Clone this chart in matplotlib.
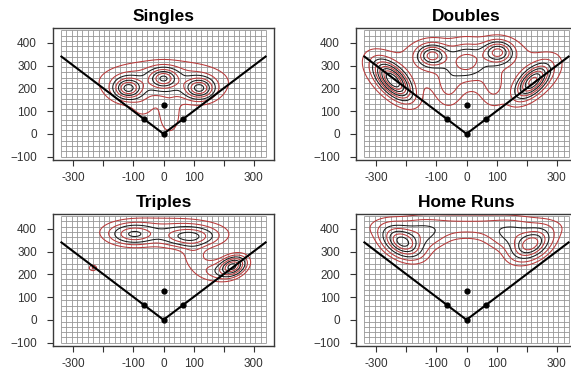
import numpy as np
import matplotlib
matplotlib.use("Agg")
import matplotlib.pyplot as plt

plt.rcParams['font.family'] = ['Liberation Sans', 'DejaVu Sans']

# Panel titles
titles = ["Singles", "Doubles", "Triples", "Home Runs"]

# Hot spots of each density surface:
# centre x, centre y, spread x, spread y, tilt, weight
singles_cx = [-118, 0, 120, 0, 20, -70]
singles_cy = [200, 245, 200, 230, 80, 115]
singles_sx = [30, 30, 31, 125, 22, 28]
singles_sy = [30, 28, 30, 55, 50, 35]
singles_rho = [0, 0, 0, 0, 0, 0]
singles_w = [1.0, 0.8, 1.0, 0.35, 0.2, 0.1]

doubles_cx = [-245, 220, -115, 105, 0, 0, -60, 90]
doubles_cy = [235, 230, 345, 360, 320, 300, 200, 200]
doubles_sx = [40, 38, 33, 33, 40, 200, 28, 28]
doubles_sy = [55, 50, 33, 33, 50, 80, 55, 55]
doubles_rho = [-0.6, 0.6, 0, 0, 0, 0, 0, 0]
doubles_w = [1.0, 0.8, 0.55, 0.55, 0.3, 0.16, 0.15, 0.15]

triples_cx = [-100, 85, 230, -235, 100, 0, 170]
triples_cy = [375, 365, 235, 228, 285, 395, 215]
triples_sx = [48, 58, 27, 9, 28, 135, 38]
triples_sy = [28, 28, 27, 9, 50, 40, 30]
triples_rho = [0, 0, 0.3, 0, 0, 0, 0]
triples_w = [0.55, 0.6, 1.0, 0.2, 0.13, 0.18, 0.22]

hr_cx = [-215, 215, 0, -150, 150]
hr_cy = [340, 330, 410, 370, 365]
hr_sx = [40, 40, 190, 50, 50]
hr_sy = [42, 42, 35, 40, 40]
hr_rho = [-0.4, 0.4, 0, 0, 0]
hr_w = [1.0, 0.9, 0.22, 0.3, 0.3]

# contour levels as fraction of peak height
singles_levels = [0.07, 0.18, 0.3, 0.45, 0.6, 0.75, 0.9]
doubles_levels = [0.07, 0.17, 0.27, 0.37, 0.47, 0.57, 0.67, 0.77, 0.87]
triples_levels = [0.08, 0.18, 0.3, 0.45, 0.6, 0.75, 0.9]
hr_levels = [0.07, 0.16, 0.3, 0.45, 0.6, 0.75, 0.9]

# field: foul lines and bases
foul_x = [-340, 0, 340]
foul_y = [340, 0, 340]
base_x = [0, -63.6, 63.6, 0]
base_y = [0, 63.6, 63.6, 127]

xticks = [-300, -200, -100, 0, 100, 200, 300]
xticklabels = ["-300", "", "-100", "0", "100", "", "300"]
yticks = [-100, 0, 100, 200, 300, 400]

panels = [
    (singles_cx, singles_cy, singles_sx, singles_sy, singles_rho, singles_w, singles_levels),
    (doubles_cx, doubles_cy, doubles_sx, doubles_sy, doubles_rho, doubles_w, doubles_levels),
    (triples_cx, triples_cy, triples_sx, triples_sy, triples_rho, triples_w, triples_levels),
    (hr_cx, hr_cy, hr_sx, hr_sy, hr_rho, hr_w, hr_levels),
]

W, H = 571, 371
fig = plt.figure(figsize=(W / 100, H / 100), dpi=100)

# pixel boxes: left, top, right, bottom
boxes = [(53, 27.7, 274, 160), (356, 27.7, 577, 160),
         (53, 213.5, 274, 346), (356, 213.5, 577, 346)]

gx = np.linspace(-368, 368, 320)
gy = np.linspace(-115, 467, 280)
GX, GY = np.meshgrid(gx, gy)


def surface(cx, cy, sx, sy, rho, w):
    Z = np.zeros_like(GX)
    for a, b, s1, s2, r, k in zip(cx, cy, sx, sy, rho, w):
        dx = (GX - a) / s1
        dy = (GY - b) / s2
        Z += k * np.exp(-(dx ** 2 - 2 * r * dx * dy + dy ** 2) / (2 * (1 - r ** 2)))
    return Z


red, blk = '#b83a3a', '#1a1a1a'

for title, box, p in zip(titles, boxes, panels):
    l, t, r, b = box
    ax = fig.add_axes([l / W, 1 - b / H, (r - l) / W, (b - t) / H])
    ax.set_xlim(-368, 368)
    ax.set_ylim(-115, 467)

    # background grid
    vx = np.linspace(-342, 342, 39)
    hy = np.linspace(-100, 455, 25)
    ax.vlines(vx, -100, 455, color='#969696', lw=0.6, zorder=1)
    ax.hlines(hy, -342, 342, color='#969696', lw=0.6, zorder=1)

    Z = surface(*p[:6])
    levels = [f * Z.max() for f in p[6]]
    colors = [red, red] + [blk if i % 2 == 0 else red for i in range(len(levels) - 2)]
    ax.contour(GX, GY, Z, levels=levels, colors=colors, linewidths=0.75, zorder=2)

    ax.plot(foul_x, foul_y, color='black', lw=1.5, zorder=3)
    ax.plot(base_x, base_y, 'o', color='black', ms=3.5, zorder=4)

    ax.set_title(title, fontsize=12.5, fontweight='bold', pad=5)
    ax.set_xticks(xticks)
    ax.set_xticklabels(xticklabels)
    ax.set_yticks(yticks)
    ax.tick_params(direction='out', length=4.5, width=0.8,
                   labelsize=8.5, colors='#333333')
    ax.tick_params(axis='y', pad=7)
    ax.tick_params(axis='x', pad=4)
    for s in ax.spines.values():
        s.set_color('#3a3a3a')
        s.set_linewidth(1.0)

fig.savefig("out.png", dpi=100)
